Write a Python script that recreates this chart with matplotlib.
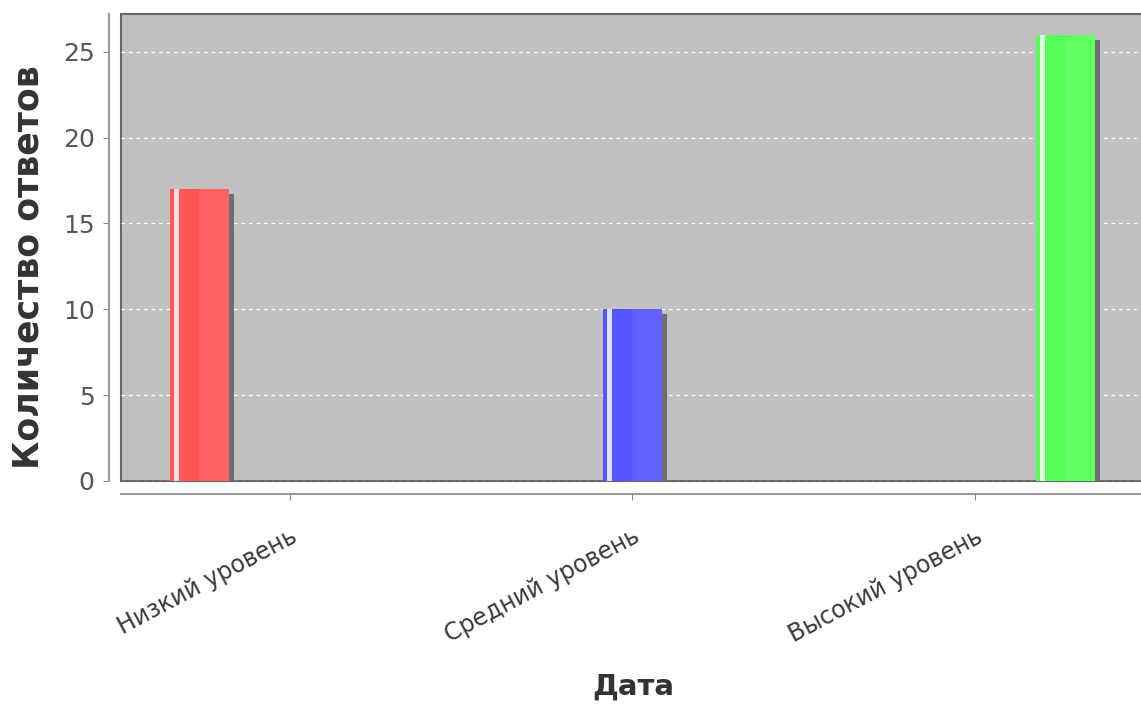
import matplotlib
matplotlib.use("Agg")
import matplotlib.pyplot as plt

categories = ["Низкий уровень", "Средний уровень", "Высокий уровень"]
series_values = [
    [17, 0, 0],   # red
    [0, 10, 0],   # blue
    [0, 0, 26],   # green
]
series_colors = ["#ff5555", "#5555ff", "#55ff55"]
light_colors = ["#ff6e6e", "#6a6aff", "#6cff6c"]
stripe_colors = ["#ffe0e0", "#e0e0ff", "#e6ffe6"]
yticks = [0, 5, 10, 15, 20, 25]

fig = plt.figure(figsize=(11.41, 7.15), dpi=100)
ax = fig.add_axes([121 / 1141, 234 / 715, 1025 / 1141, 467 / 715])
ax.set_facecolor("#c0c0c0")
ax.patch.set_edgecolor("#666666")
ax.patch.set_linewidth(1.5)

# axis lines sit a little outside the plot area
for s in ["top", "right"]:
    ax.spines[s].set_visible(False)
for s in ["left", "bottom"]:
    ax.spines[s].set_position(("outward", 9))
    ax.spines[s].set_color("#999999")
    ax.spines[s].set_linewidth(1.5)

px_x = 1 / 342.5
px_y = 1 / 17.16
offsets = [-0.264, 0.0, 0.264]
width = 59 * px_x

for j, vals in enumerate(series_values):
    for i, v in enumerate(vals):
        if v == 0:
            continue
        x = i + offsets[j]
        # shadow
        ax.bar(x + 5 * px_x, v - 5 * px_y, width=width, color="#6e6e6e", zorder=2)
        # main bar with simple gradient
        ax.bar(x, v, width=width, color=series_colors[j], zorder=3)
        ax.bar(x + width * 0.25, v, width=width * 0.5, color=light_colors[j], zorder=3, alpha=0.6)
        ax.bar(x - width / 2 + 6.5 * px_x, v, width=5 * px_x, color=stripe_colors[j], zorder=4)

ax.set_xlim(-0.493, 2.5)
ax.set_ylim(0, 27.2)
ax.set_yticks(yticks)
ax.set_xticks(range(len(categories)))
ax.set_xticklabels(categories, rotation=28, ha="right", rotation_mode="anchor",
                   fontsize=17, color="#3a3a3a")
ax.tick_params(axis="x", length=4, color="#888888", pad=18)
ax.tick_params(axis="y", length=4, color="#888888", labelsize=18, labelcolor="#555555", pad=6)
ax.yaxis.grid(True, color="white", linestyle=(0, (3, 3)), linewidth=0.9)
ax.set_axisbelow(True)

ax.set_ylabel("Количество ответов", fontsize=25, fontweight="bold", color="#333333")
ax.yaxis.set_label_coords(-0.074, 0.458)
ax.set_xlabel("Дата", fontsize=21, fontweight="bold", color="#333333", labelpad=18)

fig.savefig("out.png", dpi=100)
